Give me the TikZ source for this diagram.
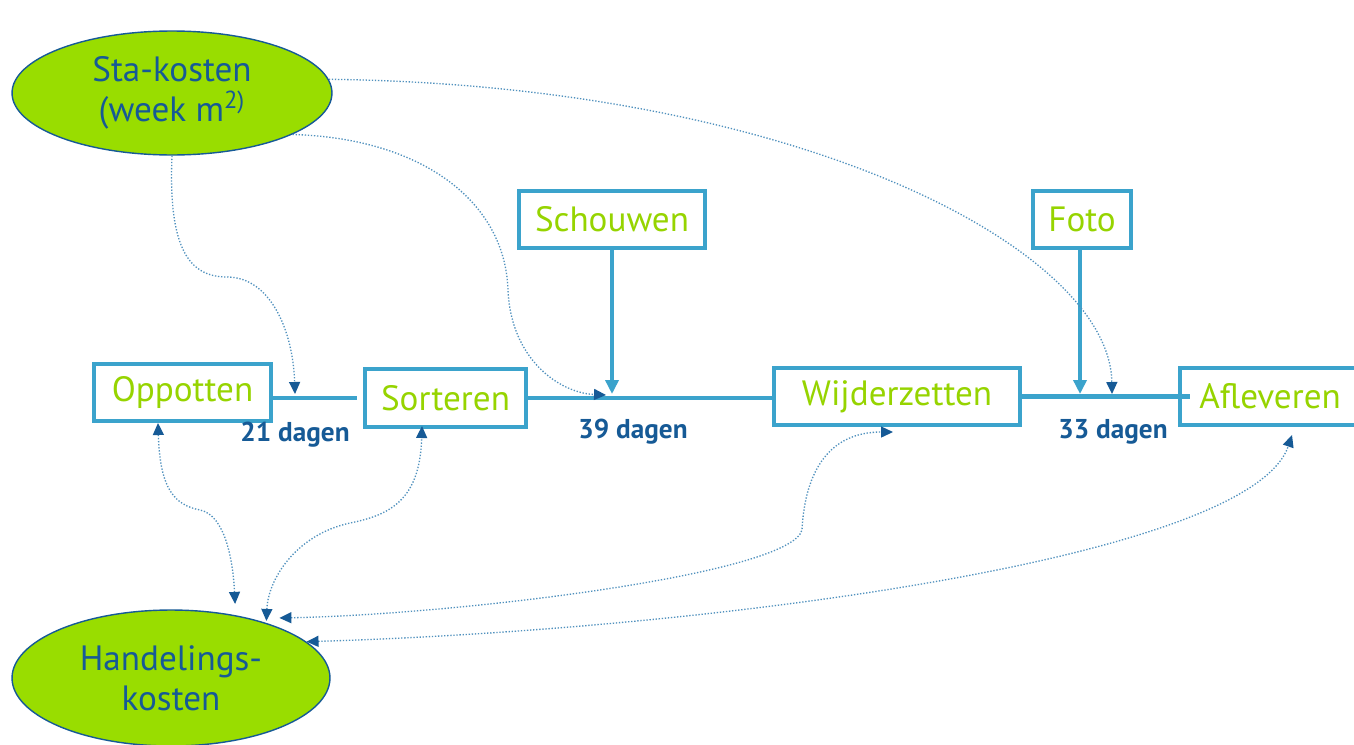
\documentclass[tikz,border=0pt]{standalone}
\usepackage{fontspec}
\setmainfont{PT Sans}
\usetikzlibrary{arrows.meta,shapes.geometric}
\definecolor{boxblue}{RGB}{59,163,204}
\definecolor{limetext}{RGB}{150,212,0}
\definecolor{limefill}{RGB}{153,221,0}
\definecolor{dblue}{RGB}{22,90,150}
\definecolor{dotblue}{RGB}{80,145,190}
\tikzset{
  dtip/.tip={Triangle[color=dblue,length=0.24cm,width=0.22cm]},
  btip/.tip={Triangle[color=boxblue,length=0.28cm,width=0.26cm]},
  procbox/.style={draw=boxblue, line width=2.3pt, fill=white, text=limetext,
    font=\fontsize{20}{24}\selectfont, inner sep=0pt, minimum height=1.14cm},
  costell/.style={ellipse, draw=dblue, line width=0.8pt, fill=limefill, text=dblue,
    font=\fontsize{20}{22.7}\selectfont, align=center, inner sep=0pt},
  flowline/.style={draw=boxblue, line width=2.3pt},
  flowarrow/.style={draw=boxblue, line width=2.2pt, -{btip}},
  dotone/.style={draw=dotblue, line width=0.75pt, densely dotted, -{dtip}},
  dotboth/.style={draw=dotblue, line width=0.75pt, densely dotted, {dtip}-{dtip}},
  daglabel/.style={text=dblue, font=\fontsize{15.5}{18}\selectfont\bfseries, inner sep=0pt}
}
\begin{document}
\begin{tikzpicture}[x=0.02cm,y=-0.02cm]
\clip (0,0) rectangle (1354,744);
\fill[white] (0,0) rectangle (1354,744);

% cost ellipses
\node[costell, minimum width=6.4cm, minimum height=2.48cm] (sta) at (172,93) {Sta-kosten\\(week m\textsuperscript{2)}};
\node[costell, minimum width=6.36cm, minimum height=2.72cm] (han) at (171,678) {Handelings-\\kosten};

% process boxes
\node[procbox, minimum width=3.54cm] (opp) at (182.5,392.5) {Oppotten};
\node[procbox, minimum width=3.22cm, minimum height=1.16cm] (sor) at (445.5,398) {Sorteren};
\node[procbox, minimum width=3.72cm] (sch) at (612,219.5) {Schouwen};
\node[procbox, minimum width=1.96cm] (foto) at (1082,219.5) {Foto};
\node[procbox, minimum width=4.92cm] (wij) at (897,396.5) {Wijderzetten};
\node[procbox, minimum width=3.6cm] (afl) at (1270,396.5) {Afleveren};

% flow lines
\draw[flowline] (opp.east |- sor.west) -- ([xshift=-0.12cm]sor.west);
\draw[flowline] (sor.east) -- (sor.east -| wij.west);
\draw[flowline] (wij.east) -- ([xshift=0.24cm]afl.west);

% junction points on the flow line
\coordinate (j1) at (295,394);
\coordinate (j2) at (612,394);
\coordinate (j2b) at (606,395);
\coordinate (j3) at (1080,394);
\coordinate (j4) at (1112,394);

\draw[flowarrow] (sch.south) -- (j2);
\draw[flowarrow] (foto.south -| j3) -- (j3);

% labels
\node[daglabel] (l21) at (295,435) {21 dagen};
\node[daglabel] (l39) at (633,432) {39 dagen};
\node[daglabel] (l33) at (1113,432) {33 dagen};

% dotted arrows from Sta-kosten
\draw[dotone] (sta.south) .. controls (168,250) and (190,277) .. (227,277)
   .. controls (270,277) and (293,330) .. (j1);
\draw[dotone] (sta.-19) .. controls (420,138) and (505,200) .. (508,290)
   .. controls (511,360) and (560,393) .. (j2b);
\draw[dotone] (sta.5) .. controls (800,85) and (1110,250) .. (j4);

% dotted double arrows to Handelingskosten
\draw[dotboth] ([shift={(1,-11)}]han.45) .. controls (233,560) and (225,515) .. (200,510)
   .. controls (175,505) and (160,490) .. ([shift={(-24.5,0)}]opp.south);
\draw[dotboth] ([shift={(0,-2)}]han.30) .. controls (268,580) and (295,535) .. (350,523)
   .. controls (390,515) and (420,500) .. ([shift={(-23.5,-3)}]sor.south);
\draw[dotboth] ([shift={(13,-5)}]han.30) .. controls (450,615) and (790,575) .. (802,530)
   .. controls (805,470) and (830,432) .. ([shift={(-4,5)}]wij.south);
\draw[dotboth] (han.15) .. controls (700,630) and (1250,560) .. ([shift={(22,8)}]afl.south);
\end{tikzpicture}
\end{document}
